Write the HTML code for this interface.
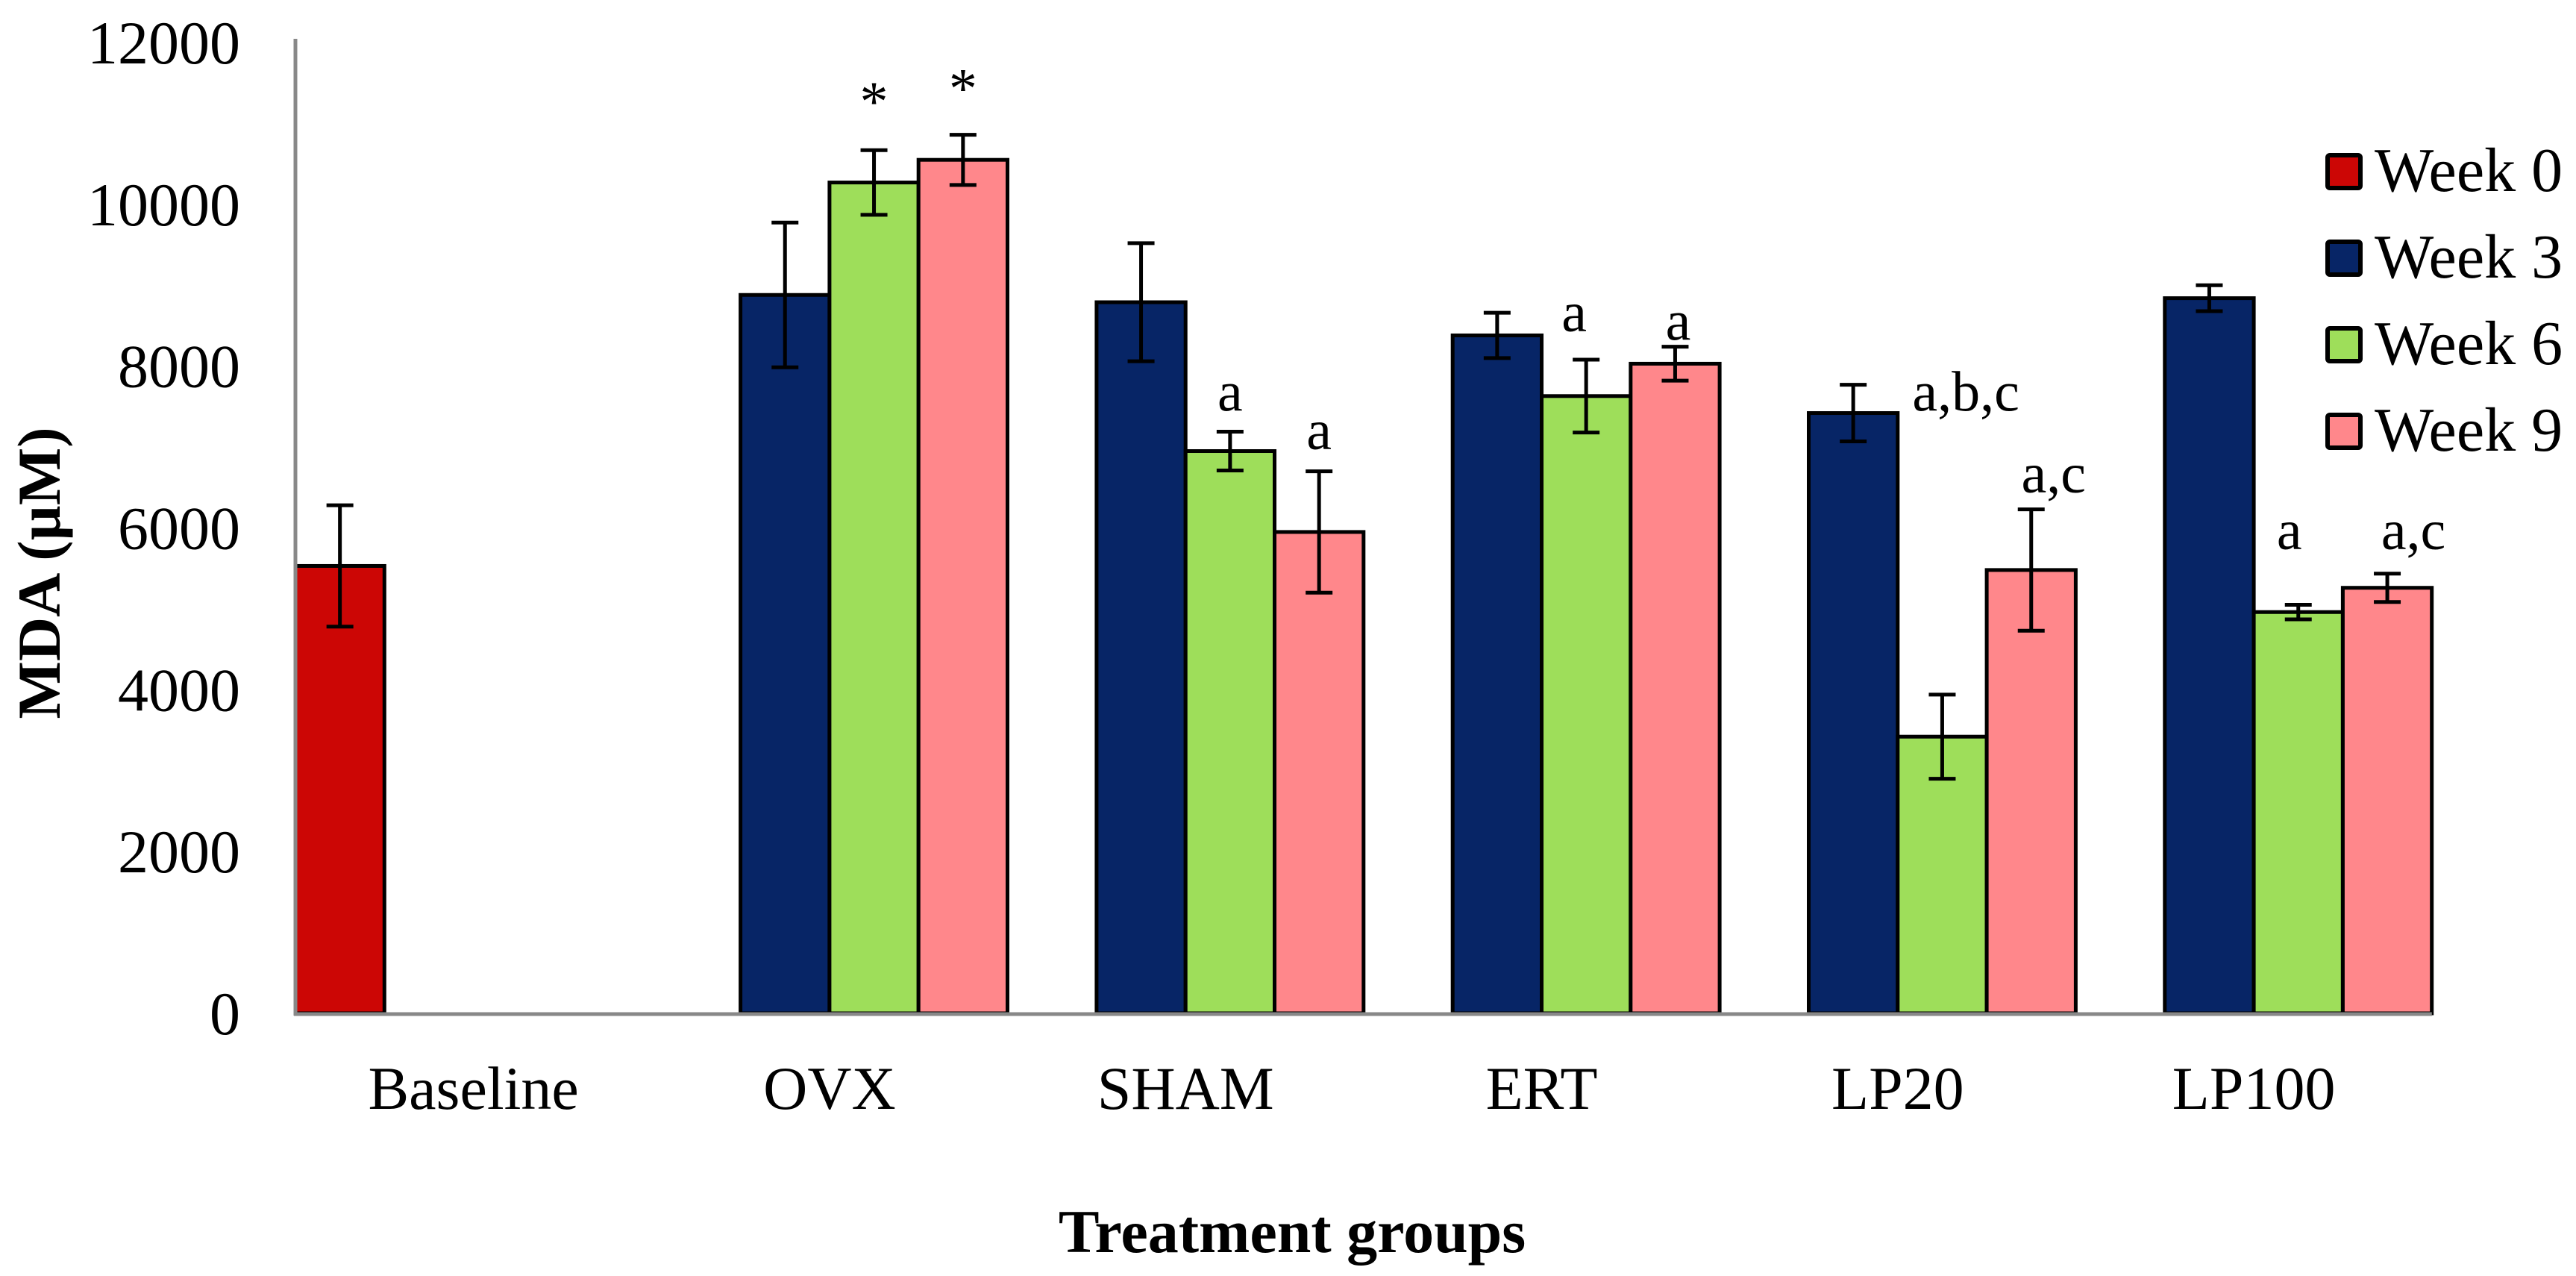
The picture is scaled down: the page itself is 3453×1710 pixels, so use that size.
<!DOCTYPE html>
<html><head><meta charset="utf-8"><style>
html,body{margin:0;padding:0;background:#fff;}
svg{display:block;font-family:"Liberation Serif",serif;}
</style></head><body>
<svg id="chart" width="3453" height="1710" viewBox="0 0 3453 1710" xmlns="http://www.w3.org/2000/svg">
<g id="bars"></g>
<g id="axes"></g>
<text x="0" y="0" transform="translate(80,768) rotate(-90)" text-anchor="middle" font-weight="bold" font-size="82">MDA (µM)</text>
<text x="1732" y="1678" text-anchor="middle" font-weight="bold" font-size="82">Treatment groups</text>
<g id="legend"></g>
</svg>
<script>
const categories = ["Baseline","OVX","SHAM","ERT","LP20","LP100"];
const seriesNames = ["Week 0","Week 3","Week 6","Week 9"];
const week0 = [5530,null,null,null,null,null];
const week3 = [null,8880,8790,8380,7420,8840];
const week6 = [null,10270,6950,7630,3420,4960];
const week9 = [null,10550,5950,8030,5480,5260];
const err0 = [750,null,null,null,null,null];
const err3 = [null,895,730,280,350,160];
const err6 = [null,400,240,450,520,90];
const err9 = [null,310,750,210,750,175];
const yTicks = [0,2000,4000,6000,8000,10000,12000];
const annText = ["*","*","a","a","a","a","a,b,c","a,c","a","a,c"];
const annCat = [1,1,2,2,3,3,4,4,5,5];
const annSeries = [2,3,2,3,2,3,1,3,2,3];
const annValue = [11240,11400,7650,7175,8635,8525,7650,6640,5940,5940];
const annDx = [0,0,0,0,-16,4,151,30,-12,35];

const colors = ["#cc0605","#072566","#9ede5a","#ff878b"];
const values = [week0,week3,week6,week9];
const errs = [err0,err3,err6,err9];
const NS="http://www.w3.org/2000/svg";
const x0=396, catW=477.3, barW=119.3, yZero=1358, yTop=57, yMax=12000;
function yScale(v){return yZero-(v/yMax)*(yZero-yTop);}
function xBar(c,s){return x0+c*catW+s*barW;}
function mk(tag,attrs,parent){const e=document.createElementNS(NS,tag);for(const k in attrs)e.setAttribute(k,attrs[k]);parent.appendChild(e);return e;}
const bars=document.getElementById('bars'), axes=document.getElementById('axes'), legend=document.getElementById('legend');

for(let s=0;s<4;s++){
  for(let c=0;c<categories.length;c++){
    const v=values[s][c]; if(v==null) continue;
    const x=xBar(c,s), y=yScale(v);
    const r=mk('rect',{x:x,y:y,width:barW,height:yZero-y,fill:colors[s],stroke:'#000','stroke-width':5},bars);
    
    
  }
}
const ya=mk('line',{x1:x0,y1:yTop-5,x2:x0,y2:yZero+3,stroke:'#888','stroke-width':5},axes);


const xa=mk('line',{x1:x0-2,y1:yZero+1,x2:x0+6*catW,y2:yZero+1,stroke:'#888','stroke-width':5},axes);


for(let s=0;s<4;s++){
  for(let c=0;c<categories.length;c++){
    const v=values[s][c], e=errs[s][c]; if(v==null) continue;
    const cx=xBar(c,s)+barW/2, yt=yScale(v+e), yb=yScale(v-e);
    const g=mk('g',{stroke:'#000','stroke-width':5},axes);
    
    
    mk('line',{x1:cx,y1:yt,x2:cx,y2:yb},g);
    mk('line',{x1:cx-18,y1:yt,x2:cx+18,y2:yt},g);
    mk('line',{x1:cx-18,y1:yb,x2:cx+18,y2:yb},g);
  }
}
yTicks.forEach(t=>{
  const tx=mk('text',{x:322,y:yScale(t)+28,'text-anchor':'end','font-size':82},axes);
  tx.textContent=t;
  
  
});
categories.forEach((c,i)=>{
  const tx=mk('text',{x:x0+(i+0.5)*catW,y:1486,'text-anchor':'middle','font-size':82},axes);
  tx.textContent=c;
  
  
});
annText.forEach((t,i)=>{
  const cx=xBar(annCat[i],annSeries[i])+barW/2+annDx[i];
  const tx=mk('text',{x:cx,y:yScale(annValue[i])+22,'text-anchor':'middle','font-size':76},axes);
  tx.textContent=t;
  
  
});
seriesNames.forEach((n,i)=>{
  const g=mk('g',{},legend);
  
  
  const y=206+i*116;
  mk('rect',{x:3120,y:y+2,width:44,height:44,fill:colors[i],stroke:'#000','stroke-width':6,rx:3},g);
  const tx=mk('text',{x:3183,y:y+50,'font-size':84},g);
  tx.textContent=n;
});
</script>
</body></html>
